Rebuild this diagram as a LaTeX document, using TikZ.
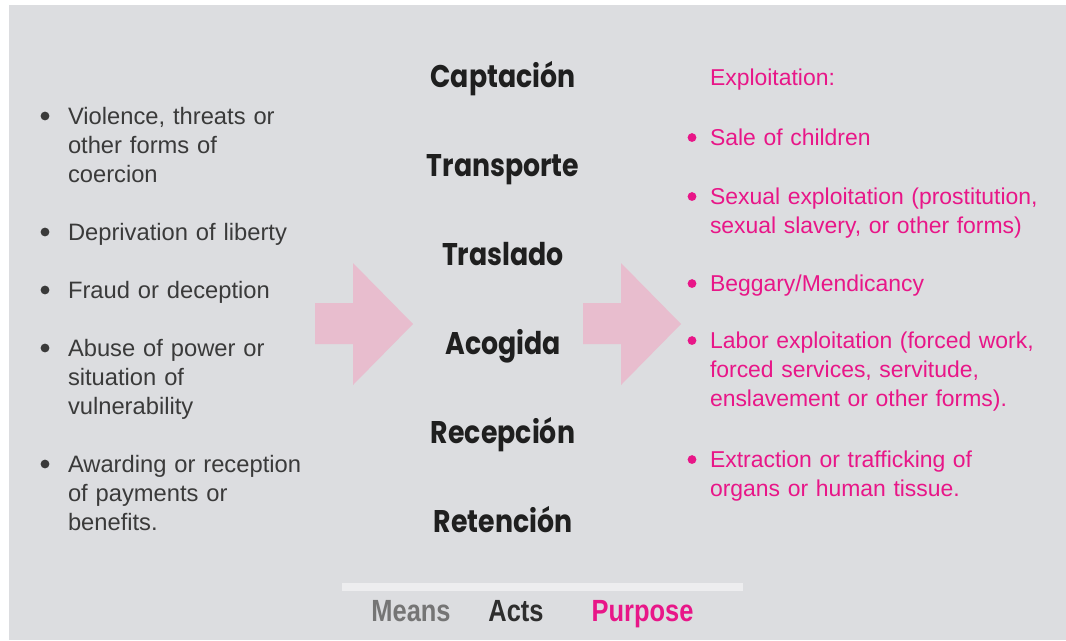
\documentclass[tikz,border=0pt]{standalone}
\usepackage{fontspec}
\setmainfont{Liberation Sans}
\newfontfamily\actsfont{Poppins}[FakeStretch=0.855]
\newfontfamily\tagfont{Liberation Sans}[FakeStretch=0.83]

\definecolor{panel}{RGB}{220,221,224}
\definecolor{arrowpink}{RGB}{232,189,206}
\definecolor{purpose}{RGB}{232,22,136}
\definecolor{means}{RGB}{58,58,58}
\definecolor{bar}{RGB}{237,237,239}

\begin{document}
\begin{tikzpicture}[x=0.75pt, y=-0.75pt]
        \tikzstyle{every node}=[inner sep=0pt, outer sep=0pt]
        \tikzstyle{meansitem}=[anchor=base west, text width=320pt, align=left, text=means, font=\fontsize{17.8pt}{21.75pt}\selectfont]
        \tikzstyle{purposeitem}=[anchor=base west, text width=330pt, align=left, text=purpose, font=\fontsize{17.2pt}{22.1pt}\selectfont]
        \tikzstyle{act}=[anchor=base, text=black!88, font=\actsfont\bfseries\fontsize{23.5pt}{28pt}\selectfont]
        \tikzstyle{tag}=[anchor=base, font=\tagfont\bfseries\fontsize{23pt}{28pt}\selectfont]

% Panel behind the three columns
        \useasboundingbox (0,0) rectangle (1066,640);
        \fill[white] (0,0) rectangle (1066,640);
        \fill[panel] (9,5) rectangle (1066,640);

% Means
        \foreach \name/\y/\txt in {m1/124/{Violence, threats or\\other forms of\\coercion},
                m2/240/{Deprivation of liberty}, m3/298/{Fraud or deception},
                m4/356/{Abuse of power or\\situation of\\vulnerability},
                m5/472/{Awarding or reception\\of payments or\\benefits.}} {
                \node[meansitem] (\name) at (68,\y) {\txt};
                \fill[means] ([xshift=-17.25pt, yshift=6pt]\name.base west) circle (3.3pt);
        }

% Acts
        \foreach \name/\y/\word in {a1/87/Captación, a2/176/Transporte, a3/265/Traslado,
                a4/354/Acogida, a5/443/Recepción, a6/532/Retención}
                \node[act] (\name) at (503,\y) {\word};

% Big arrows between the columns
        \foreach \dx in {0,268}
                \fill[arrowpink, xshift=\dx*0.75pt] (315,303) -- (353,303) -- (353,263) -- (413,324)
                        -- (353,385) -- (353,344) -- (315,344) -- cycle;

% Purpose
        \node[purposeitem] (head) at (710,85) {Exploitation:};
        \foreach \name/\y/\txt in {p1/145/{Sale of children},
                p2/204/{Sexual exploitation (prostitution,\\sexual slavery, or other forms)},
                p3/291/{Beggary/Mendicancy},
                p4/348/{Labor exploitation (forced work,\\forced services, servitude,\\enslavement or other forms).},
                p5/467/{Extraction or trafficking of\\organs or human tissue.}} {
                \node[purposeitem] (\name) at (710,\y) {\txt};
                \fill[purpose] ([xshift=-13.5pt, yshift=5.6pt]\name.base west) circle (3.3pt);
        }

% Legend
        \fill[bar] (342,583) rectangle (743,591);
        \node[tag, text=black!54] (means) at (411,621) {Means};
        \node[tag, text=black!82] (acts) at (516,621) {Acts};
        \node[tag, text=purpose] (purpose) at (642.5,621) {Purpose};

    \end{tikzpicture}
\end{document}
